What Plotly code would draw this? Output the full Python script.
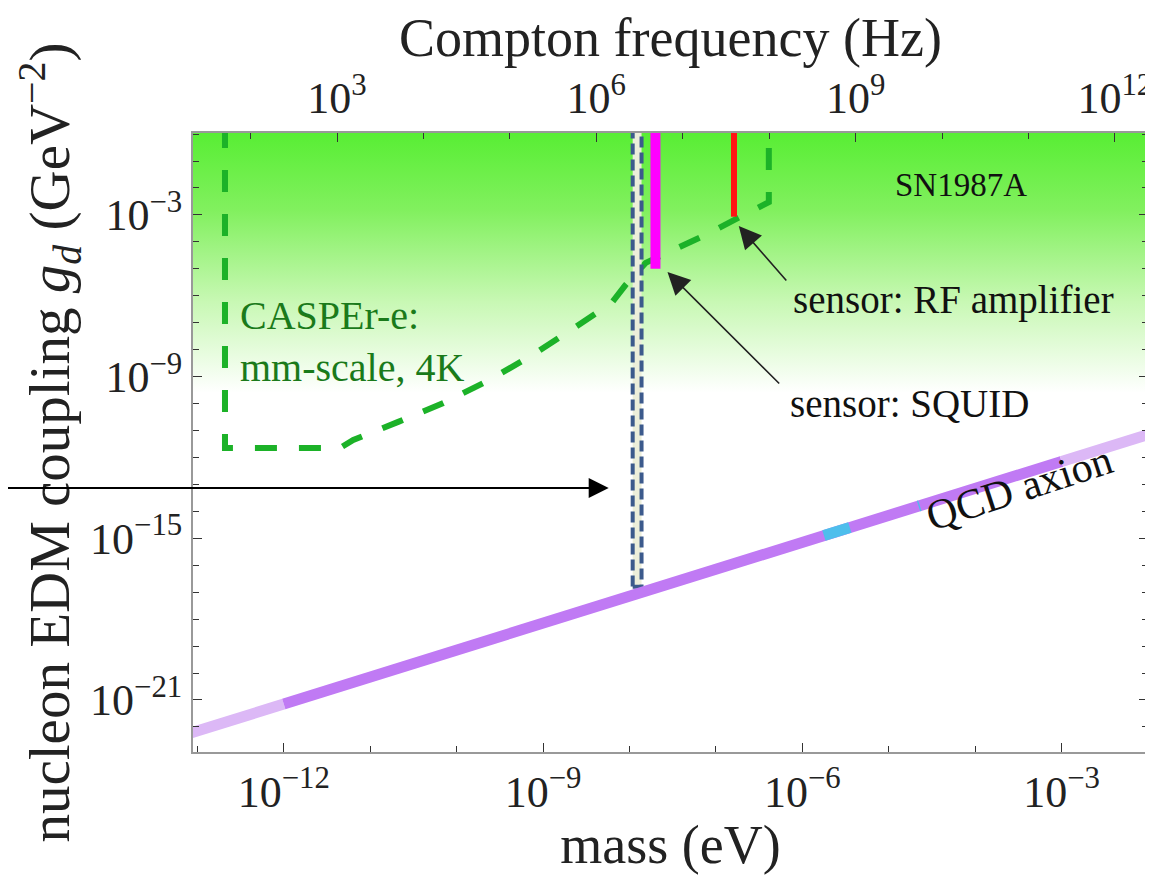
import plotly.graph_objects as go

# ---------------- data ----------------
x_range_log = [-13.05, -2.0]          # mass axis range (log10 eV)
y_range_log = [-22.93, 0.04]          # coupling axis range (log10 GeV^-2)
hz_per_ev_log = 14.3835               # log10 of Compton frequency per eV

mass_tickvals = [1e-12, 1e-9, 1e-6, 1e-3]
mass_ticktext = ["10<sup>−12</sup>", "10<sup>−9</sup>", "10<sup>−6</sup>", "10<sup>−3</sup>"]
freq_tickvals = [1e3, 1e6, 1e9, 1e12]
freq_ticktext = ["10<sup>3</sup>", "10<sup>6</sup>", "10<sup>9</sup>", "10<sup>12</sup>"]
g_tickvals = [1e-21, 1e-15, 1e-9, 1e-3]
g_ticktext = ["10<sup>−21</sup>", "10<sup>−15</sup>", "10<sup>−9</sup>", "10<sup>−3</sup>"]

# SN1987A shaded region (gradient fades to white at this coupling)
sn_mass = [10**-13.05, 10**-2.0, 10**-2.0, 10**-13.05]
sn_g = [10**-9.6, 10**-9.6, 10**0.04, 10**0.04]

# CASPEr-e projected sensitivity (dashed green)
casper_mass = [2.09e-13, 2.09e-13, 4.47e-12, 6.37e-12, 2.11e-11, 7.03e-11, 2.28e-10,
               6.97e-10, 2.03e-9, 6.2e-9, 9.0e-9, 1.54e-8, 7.6e-8, 2.4e-7, 4.1e-7, 4.1e-7]
casper_g = [2.0, 2.24e-12, 2.24e-12, 4.47e-12, 2.09e-11, 1.05e-10, 6.9e-10,
            5.4e-9, 5.0e-8, 5.4e-7, 2.5e-6, 1.66e-5, 1.82e-4, 1.29e-3, 3.0e-3, 2.0]

# narrow dashed box (current search window)
box_mass = [1.09e-8, 1.38e-8]
box_g = [1.6e-17, 2.0]

# sensor reaches
squid_mass = [2.0e-8, 2.0e-8]
squid_g = [1.0e-5, 2.0]
rf_mass = [1.62e-7, 1.62e-7]
rf_g = [8.6e-4, 2.0]

# QCD axion band: segments (mass, coupling)
qcd_light_lo_m = [10**-13.1, 1e-12]
qcd_light_lo_g = [10**-22.25, 10**-21.15]
qcd_main_m = [1e-12, 1e-3]
qcd_main_g = [10**-21.15, 10**-12.15]
qcd_light_hi_m = [1e-3, 10**-1.95]
qcd_light_hi_g = [10**-12.15, 10**-11.1]
qcd_blue_m = [10**-5.75, 10**-5.45]
qcd_blue_g = [10**-14.9, 10**-14.6]
qcd_blue2_m = [10**-4.655, 10**-4.64]
qcd_blue2_g = [10**-13.805, 10**-13.79]

# annotation anchor points (log10 mass, log10 coupling)
squid_head = (-7.56, -5.12)
squid_tail = (-6.25, -9.31)
rf_head = (-6.735, -3.41)
rf_tail = (-6.17, -5.49)
left_arrow_head = (-8.24, -13.13)
left_arrow_tail_x = -15.3

SERIF = "Liberation Serif, Times New Roman, serif"

fig = go.Figure()

fig.add_trace(go.Scatter(
    x=sn_mass, y=sn_g, mode="lines", fill="toself", line=dict(width=0),
    fillgradient=dict(type="vertical",
                      colorscale=[[0.0, "rgba(255,255,255,1)"], [0.35, "rgb(200,248,180)"],
                                  [0.7, "rgb(130,240,95)"], [1.0, "rgb(88,238,52)"]]),
    hoverinfo="skip", showlegend=False))

fig.add_trace(go.Scatter(
    x=casper_mass, y=casper_g, mode="lines",
    line=dict(color="rgb(28,178,40)", width=6, dash="22px,22px"),
    showlegend=False, hoverinfo="skip"))

fig.add_trace(go.Scatter(
    x=[box_mass[0], box_mass[1], box_mass[1], box_mass[0], box_mass[0]],
    y=[box_g[0], box_g[0], box_g[1], box_g[1], box_g[0]],
    mode="lines", fill="toself", fillcolor="rgb(236,238,218)",
    line=dict(color="rgb(60,90,140)", width=4, dash="11px,5px"),
    showlegend=False, hoverinfo="skip"))

fig.add_trace(go.Scatter(x=squid_mass, y=squid_g, mode="lines",
                         line=dict(color="rgb(255,0,255)", width=10),
                         showlegend=False, hoverinfo="skip"))
fig.add_trace(go.Scatter(x=rf_mass, y=rf_g, mode="lines",
                         line=dict(color="rgb(255,20,20)", width=6),
                         showlegend=False, hoverinfo="skip"))

for mm, gg, col in [(qcd_light_lo_m, qcd_light_lo_g, "rgb(220,184,246)"),
                    (qcd_main_m, qcd_main_g, "rgb(192,122,244)"),
                    (qcd_light_hi_m, qcd_light_hi_g, "rgb(220,184,246)"),
                    (qcd_blue_m, qcd_blue_g, "rgb(78,190,236)"),
                    (qcd_blue2_m, qcd_blue2_g, "rgb(78,190,236)")]:
    fig.add_trace(go.Scatter(x=mm, y=gg, mode="lines", line=dict(color=col, width=11),
                             showlegend=False, hoverinfo="skip"))

# dummy trace for the top (frequency) axis
fig.add_trace(go.Scatter(x=[freq_tickvals[1]], y=[1e-10], xaxis="x2", mode="markers",
                         marker=dict(opacity=0), showlegend=False, hoverinfo="skip"))

minor_mass = [10.0**k for k in range(-13, -1)]
minor_freq = [10.0**k for k in range(2, 13)]
minor_g = [10.0**k for k in range(-22, 1)]

axis_common = dict(type="log", ticks="inside", ticklen=9, tickwidth=1, tickcolor="#333",
                   showline=True, linecolor="#999", linewidth=2, showgrid=False,
                   zeroline=False, automargin=False,
                   tickfont=dict(family=SERIF, size=44, color="#222"))
title_font = dict(family=SERIF, size=54, color="#222")

fig.update_layout(
    width=1145, height=867,
    margin=dict(l=185, r=5, t=125, b=123),
    paper_bgcolor="white", plot_bgcolor="white",
    xaxis=dict(**axis_common, range=x_range_log, tickmode="array",
               tickvals=mass_tickvals, ticktext=mass_ticktext,
               minor=dict(tickmode="array", tickvals=minor_mass, ticks="inside",
                          ticklen=6, tickcolor="#333"),
               title=dict(text="mass (eV)", font=title_font, standoff=4)),
    xaxis2=dict(**axis_common, overlaying="x", side="top", anchor="y",
                range=[x_range_log[0] + hz_per_ev_log, x_range_log[1] + hz_per_ev_log],
                tickmode="array", tickvals=freq_tickvals, ticktext=freq_ticktext,
                minor=dict(tickmode="array", tickvals=minor_freq, ticks="inside",
                           ticklen=6, tickcolor="#333"),
                title=dict(text="Compton frequency (Hz)", font=title_font, standoff=2)),
    yaxis=dict(**axis_common, range=y_range_log, tickmode="array",
               tickvals=g_tickvals, ticktext=g_ticktext, mirror="ticks",
               minor=dict(tickmode="array", tickvals=minor_g, ticks="inside",
                          ticklen=6, tickcolor="#333"),
               title=dict(text="nucleon EDM coupling <i>g<sub>d</sub></i> (GeV<sup>−2</sup>)",
                          font=dict(family=SERIF, size=57, color="#222"), standoff=0)),
)

fig.add_annotation(x=squid_head[0], y=squid_head[1], ax=squid_tail[0], ay=squid_tail[1],
                   axref="x", ayref="y", xref="x", yref="y", text="", showarrow=True,
                   arrowhead=2, arrowsize=2.8, arrowwidth=1.6, arrowcolor="#222")
fig.add_annotation(x=rf_head[0], y=rf_head[1], ax=rf_tail[0], ay=rf_tail[1],
                   axref="x", ayref="y", xref="x", yref="y", text="", showarrow=True,
                   arrowhead=2, arrowsize=2.8, arrowwidth=1.6, arrowcolor="#222")
fig.add_annotation(x=left_arrow_head[0], y=left_arrow_head[1], ax=left_arrow_tail_x,
                   ay=left_arrow_head[1], axref="x", ayref="y", xref="x", yref="y",
                   text="", showarrow=True, arrowhead=2, arrowsize=2.0, arrowwidth=2,
                   arrowcolor="#000")

sensor_font = dict(family=SERIF, size=39, color="#111")
fig.add_annotation(x=-6.13, y=-6.15, xref="x", yref="y", text="sensor: RF amplifier",
                   showarrow=False, xanchor="left", yanchor="middle", font=sensor_font)
fig.add_annotation(x=-6.16, y=-10.01, xref="x", yref="y", text="sensor: SQUID",
                   showarrow=False, xanchor="left", yanchor="middle", font=sensor_font)
fig.add_annotation(x=-4.16, y=-1.89, xref="x", yref="y", text="SN1987A",
                   showarrow=False, xanchor="center", yanchor="middle",
                   font=dict(family=SERIF, size=33, color="#111"))
fig.add_annotation(x=-12.53, y=-7.68, xref="x", yref="y", text="CASPEr-e:<br>mm-scale, 4K",
                   showarrow=False, xanchor="left", yanchor="middle", align="left",
                   font=dict(family=SERIF, size=40, color="rgb(26,122,26)"))
fig.add_annotation(x=-3.49, y=-13.13, xref="x", yref="y", text="QCD axion",
                   showarrow=False, textangle=-18, xanchor="center", yanchor="middle",
                   font=dict(family=SERIF, size=42, color="#111"))

fig.write_html("out.html")
